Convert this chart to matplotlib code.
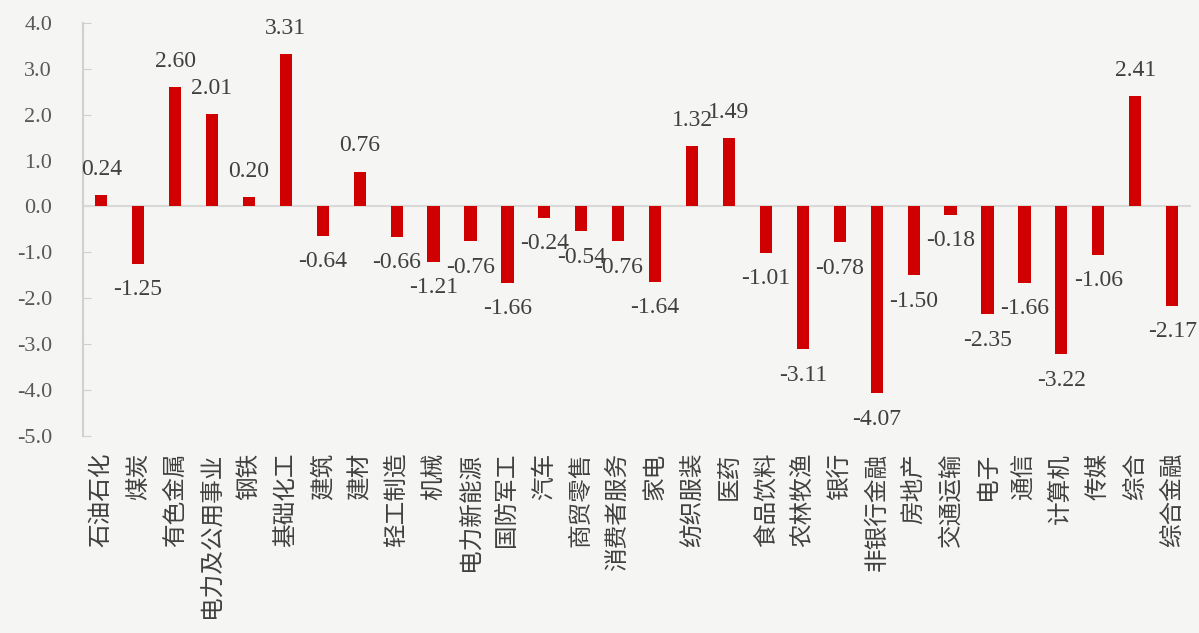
import matplotlib
matplotlib.use("Agg")
import matplotlib.pyplot as plt

categories = ["石油石化", "煤炭", "有色金属", "电力及公用事业", "钢铁", "基础化工", "建筑", "建材",
              "轻工制造", "机械", "电力新能源", "国防军工", "汽车", "商贸零售", "消费者服务", "家电",
              "纺织服装", "医药", "食品饮料", "农林牧渔", "银行", "非银行金融", "房地产", "交通运输",
              "电子", "通信", "计算机", "传媒", "综合", "综合金融"]
values = [0.24, -1.25, 2.60, 2.01, 0.20, 3.31, -0.64, 0.76,
          -0.66, -1.21, -0.76, -1.66, -0.24, -0.54, -0.76, -1.64,
          1.32, 1.49, -1.01, -3.11, -0.78, -4.07, -1.50, -0.18,
          -2.35, -1.66, -3.22, -1.06, 2.41, -2.17]
yticks = [4.0, 3.0, 2.0, 1.0, 0.0, -1.0, -2.0, -3.0, -4.0, -5.0]

bg = "#F5F5F3"
fig = plt.figure(figsize=(11.99, 6.33), dpi=100, facecolor=bg)
ax = fig.add_axes([0.069, 0.311, 0.924, 0.653], facecolor=bg)

x = list(range(len(categories)))
bars = ax.bar(x, values, width=0.33, color="#D00000", zorder=3)
ax.bar_label(bars, labels=[f"{v:.2f}" for v in values], padding=11,
             fontsize=17, color="#404040", family="Liberation Serif")

ax.axhline(0, color="#D9D9D9", lw=1.5, zorder=2)
ax.set_xlim(-0.5, len(categories) - 0.5)
ax.set_ylim(-5, 4)
ax.set_yticks(yticks)
ax.set_yticklabels([f"{t:.1f}" for t in yticks], family="Liberation Serif",
                   fontsize=16, color="#595959")
ax.tick_params(axis="y", direction="in", length=6, color="#D0D0D0", pad=22)

ax.set_xticks(x)
ax.set_xticklabels(categories, rotation=90, family=["Noto Sans CJK SC", "DejaVu Sans"],
                   fontsize=17, fontweight="light", color="#404040", va="top", ha="center")
ax.tick_params(axis="x", length=0, pad=12)

for s in ["top", "right", "bottom"]:
    ax.spines[s].set_visible(False)
ax.spines["left"].set_color("#D0D0D0")
ax.spines["left"].set_linewidth(1.5)

fig.savefig("out.png", dpi=100, facecolor=bg)
